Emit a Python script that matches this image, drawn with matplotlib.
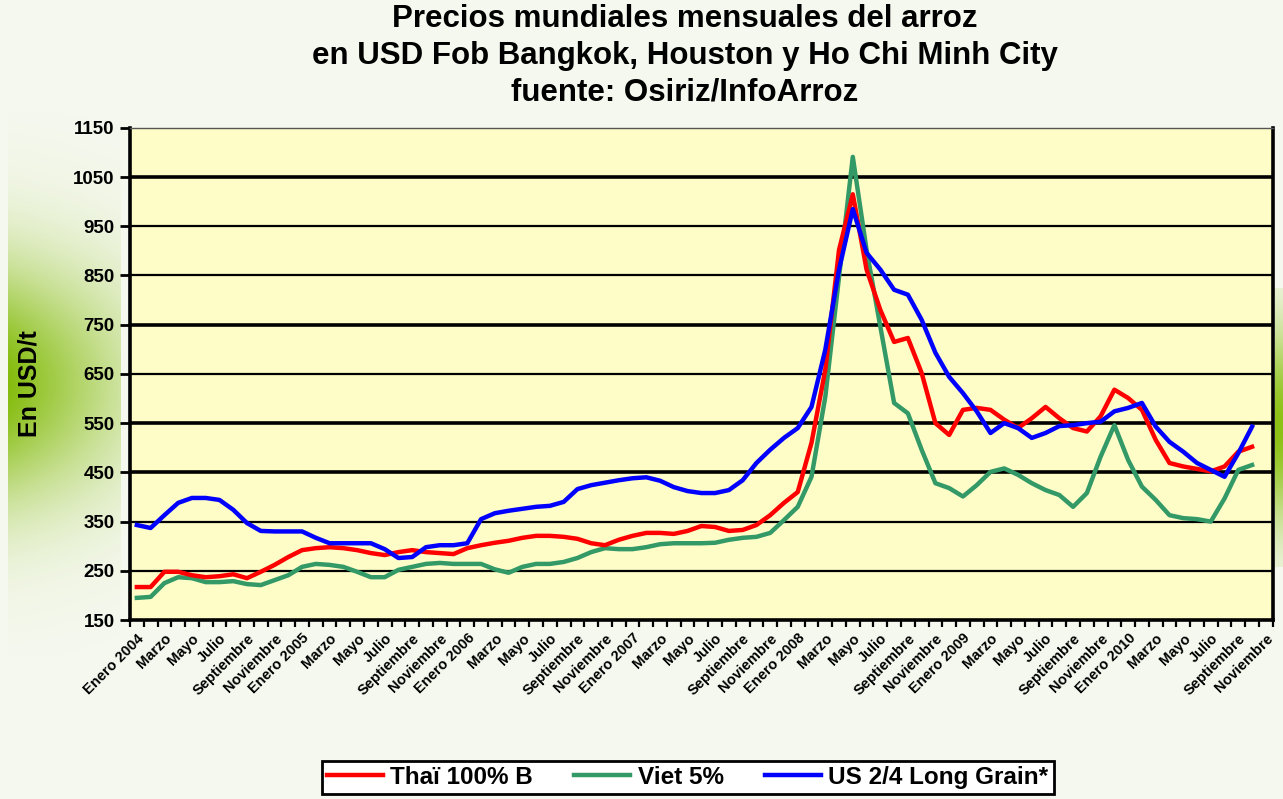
import numpy as np
import matplotlib.pyplot as plt

plt.rcParams['font.family'] = ['Liberation Sans', 'DejaVu Sans']

# precios mensuales USD/t, enero 2004 - octubre 2010
thai = [217, 217, 248, 248, 241, 237, 239, 243, 235, 248,
        262, 278, 292, 296, 298, 296, 292, 286, 282, 288,
        292, 288, 286, 284, 296, 302, 307, 311, 317, 321,
        321, 319, 315, 306, 302, 313, 321, 327, 327, 325,
        331, 341, 339, 331, 333, 343, 363, 388, 410, 510,
        658, 902, 1015, 862, 780, 715, 723, 652,
        550, 526, 577, 581, 577, 557, 540, 560, 583, 560, 540, 533,
        564, 618, 601, 577, 516, 469, 462, 457, 452, 462, 492, 502]
viet = [195, 197, 225, 237, 235, 227, 227, 229, 223, 221,
        231, 241, 258, 264, 262, 258, 248, 237, 237, 252,
        258, 264, 266, 264, 264, 264, 253, 246, 258, 264,
        264, 268, 276, 288, 296, 294, 294, 298, 304, 306,
        306, 306, 307, 313, 317, 319, 327, 353, 380, 441,
        603, 847, 1091,
        902, 746, 591, 570, 496, 428, 418, 401, 424, 451,
        458, 445, 428, 414, 404, 380, 408, 482, 546, 475,
        421, 394, 363, 357, 355, 350, 397, 455, 465]
us = [343, 337, 363, 388, 398, 398, 394, 374, 347, 331,
      330, 330, 330, 317, 306, 306, 306, 306, 294, 276,
      278, 298, 302, 302, 306, 355, 367, 372, 376, 380,
      382, 390, 416, 424, 429, 434, 438, 440, 433, 420,
      412, 408, 408, 414, 434, 469, 496, 520, 540, 583,
      699, 862, 985, 896, 862, 821, 811, 760, 693, 644,
      611, 574, 530, 550, 540, 520, 530, 544, 546, 550,
      553, 574, 581, 591, 543, 512, 492, 469, 455, 441,
      489, 543]

anios = [2004, 2005, 2006, 2007, 2008, 2009, 2010]
meses = ['Enero', 'Marzo', 'Mayo', 'Julio', 'Septiembre', 'Noviembre']
etiquetas = []
for a in anios:
    for m in meses:
        etiquetas.append(m + ' ' + str(a) if m == 'Enero' else m)

yticks = [150, 250, 350, 450, 550, 650, 750, 850, 950, 1050, 1150]
grid_lw = [1.6, 1.6, 2.6, 2.6, 1.6, 2.6, 1.6, 1.6, 2.6]

fondo = '#F5F8EE'
fig = plt.figure(figsize=(12.83, 7.99), dpi=100, facecolor=fondo)

# franja verde a la izquierda
bg = fig.add_axes([0.006, 0.18, 0.088, 0.68])
yy = np.linspace(0, 1, 200)[:, None]
xx = np.linspace(0, 1, 60)[None, :]
alpha = np.exp(-((yy - 0.5) / 0.22) ** 2) * (1 - 0.65 * xx)
img = np.zeros((200, 60, 4))
img[..., 0] = 0.52
img[..., 1] = 0.74
img[..., 2] = 0.05
img[..., 3] = alpha
bg.imshow(img, aspect='auto', extent=[0, 1, 0, 1])
bg.axis('off')

bg2 = fig.add_axes([0.9935, 0.29, 0.0065, 0.35])
img2 = np.zeros((100, 2, 4))
img2[..., 0] = 0.55
img2[..., 1] = 0.76
img2[..., 2] = 0.08
img2[..., 3] = np.exp(-((np.linspace(0, 1, 100) - 0.5) / 0.35) ** 2)[:, None]
bg2.imshow(img2, aspect='auto')
bg2.axis('off')

ax = fig.add_axes([0.1013, 0.224, 0.8907, 0.616])
ax.set_facecolor('#FEFDC8')

x = np.arange(len(thai))
for v, lw in zip(yticks[1:-1], grid_lw):
    ax.axhline(v, color='black', lw=lw, zorder=1)

l1, = ax.plot(x, thai, color='#FF0000', lw=3.2, label='Thaï 100% B', zorder=3)
l2, = ax.plot(x, viet, color='#339966', lw=3.2, label='Viet 5%', zorder=2)
l3, = ax.plot(x, us, color='#0000FF', lw=3.2, label='US 2/4 Long Grain*', zorder=4)

ax.set_xlim(-0.5, 82.5)
ax.set_ylim(150, 1150)
ax.set_yticks(yticks)
ax.set_yticklabels([str(t) for t in yticks], fontsize=13.5, fontweight='bold')
ax.tick_params(axis='y', length=7, width=2, direction='out', pad=4)

ax.set_xticks(np.arange(0, 83, 2))
ax.set_xticklabels(etiquetas, rotation=45, ha='right', va='top',
                   rotation_mode='anchor', fontsize=10.5, fontweight='bold')
ax.tick_params(axis='x', which='major', length=0, pad=8)
ax.set_xticks(np.arange(-0.5, 83, 1), minor=True)
ax.tick_params(axis='x', which='minor', length=5, width=1.6, direction='out')

for s in ['left', 'bottom', 'right']:
    ax.spines[s].set_linewidth(2.6)
ax.spines['top'].set_linewidth(1.0)
ax.spines['top'].set_color('#555555')

fig.text(0.023, 0.52, 'En USD/t', rotation=90, ha='center', va='center',
         fontsize=18, fontweight='bold')

titulo = ['Precios mundiales mensuales del arroz',
          'en USD Fob Bangkok, Houston y Ho Chi Minh City',
          'fuente: Osiriz/InfoArroz']
for k, t in enumerate(titulo):
    fig.text(0.534, 0.976 - k * 0.046, t, ha='center', va='center',
             fontsize=22.5, fontweight='bold')

leg = fig.legend(handles=[l1, l2, l3], loc='center', bbox_to_anchor=(0.536, 0.027),
                 ncol=3, frameon=True, fancybox=False, edgecolor='black',
                 facecolor='white', framealpha=1, handlelength=2.3,
                 handletextpad=0.3, columnspacing=1.7, borderpad=0.22,
                 prop={'size': 17.5, 'weight': 'bold'})
leg.get_frame().set_linewidth(2.0)

plt.savefig('out.png', dpi=100, facecolor=fondo)
